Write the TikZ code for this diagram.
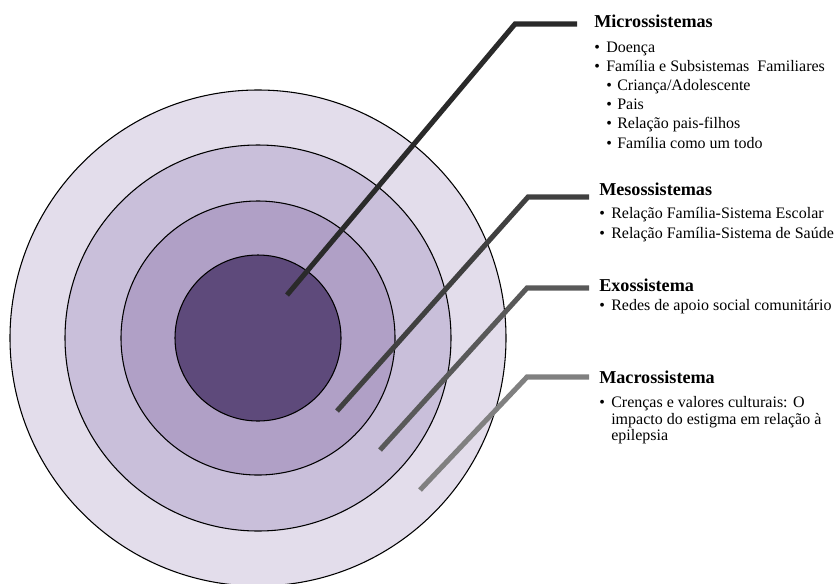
\documentclass[tikz,border=0pt]{standalone}
\usepackage{fontspec}
\setmainfont{Liberation Serif}
\definecolor{ringA}{HTML}{E3DDEB}
\definecolor{ringB}{HTML}{C9BFDA}
\definecolor{ringC}{HTML}{B0A0C6}
\definecolor{ringD}{HTML}{5E4A7B}
\definecolor{lnA}{HTML}{2A2A2A}
\definecolor{lnB}{HTML}{404040}
\definecolor{lnC}{HTML}{595959}
\definecolor{lnD}{HTML}{808080}
\begin{document}
\begin{tikzpicture}[x=0.75pt,y=-0.75pt,
  ring/.style={circle,draw=black,line width=0.8pt,inner sep=0pt},
  leader/.style={line width=3.8pt,line join=miter},
  head/.style={anchor=base west,inner sep=0pt,font=\fontsize{13.6}{16}\selectfont\bfseries},
  item/.style={anchor=base west,inner sep=0pt,font=\fontsize{12}{14}\selectfont},
  bul/.style={anchor=base west,inner sep=0pt,font=\fontsize{12}{14}\selectfont}]
\useasboundingbox (0,0) rectangle (835,583);
% rings
\node[ring,fill=ringA,minimum size=372pt] (outer) at (258,338) {};
\node[ring,fill=ringB,minimum size=289.5pt] (second) at (258,338) {};
\node[ring,fill=ringC,minimum size=205.5pt] (third) at (258,338) {};
\node[ring,fill=ringD,minimum size=124.5pt] (inner) at (258,338) {};
% leader coordinates
\coordinate (m0) at (287,295);
\coordinate (m1) at (515,24);
\coordinate (m2) at (577,24);
\coordinate (s0) at (337,411);
\coordinate (s1) at (528,197);
\coordinate (s2) at (589,197);
\coordinate (e0) at (380,450);
\coordinate (e1) at (527,288);
\coordinate (e2) at (589,288);
\coordinate (a0) at (420,490);
\coordinate (a1) at (527,377);
\coordinate (a2) at (589,377);
\draw[leader,lnA] (m0) -- (m1) -- (m2);
\draw[leader,lnB] (s0) -- (s1) -- (s2);
\draw[leader,lnC] (e0) -- (e1) -- (e2);
\draw[leader,lnD] (a0) -- (a1) -- (a2);
% Microssistemas
\node[head] (hm) at (594,27) {Microssistemas};
\node[bul] (bm1) at (594,52) {•};
\node[item] (tm1) at (606,52) {Doença};
\node[bul] (bm2) at (594,71) {•};
\node[item] (tm2) at (606,71) {Família e Subsistemas\ \ Familiares};
\node[bul] (bm3) at (606,90) {•};
\node[item] (tm3) at (617,90) {Criança/Adolescente};
\node[bul] (bm4) at (606,109) {•};
\node[item] (tm4) at (617,109) {Pais};
\node[bul] (bm5) at (606,128) {•};
\node[item] (tm5) at (617,128) {Relação pais-filhos};
\node[bul] (bm6) at (606,148) {•};
\node[item] (tm6) at (617,148) {Família como um todo};
% Mesossistemas
\node[head] (hs) at (599,195) {Mesossistemas};
\node[bul] (bs1) at (599,218) {•};
\node[item] (ts1) at (611,218) {Relação Família-Sistema Escolar};
\node[bul] (bs2) at (599,238) {•};
\node[item] (ts2) at (611,238) {Relação Família-Sistema de Saúde};
% Exossistema
\node[head] (he) at (599,291) {Exossistema};
\node[bul] (be1) at (599,310) {•};
\node[item] (te1) at (611,310) {Redes de apoio social comunitário};
% Macrossistema
\node[head] (ha) at (599,383) {Macrossistema};
\node[bul] (ba1) at (599,407) {•};
\node[item] (ta1) at (611,407) {Crenças e valores culturais: O};
\node[item] (ta2) at (611,424) {impacto do estigma em relação à};
\node[item] (ta3) at (611,440) {epilepsia};
\end{tikzpicture}
\end{document}
